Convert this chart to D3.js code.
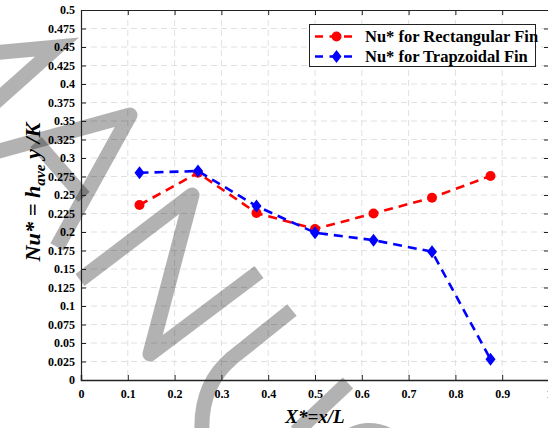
<!DOCTYPE html>
<html>
<head>
<meta charset="utf-8">
<script src="https://cdn.jsdelivr.net/npm/d3@7/dist/d3.min.js"></script>
<style>
  html, body { margin: 0; padding: 0; background: #fff; }
  svg { display: block; }
  text { font-family: "Liberation Serif", "Times New Roman", serif; font-weight: bold; fill: #000; }
</style>
</head>
<body>
<svg id="chart" width="548" height="428"></svg>
<script>
// Dimensionless position along the fin
const positions = [0.125, 0.25, 0.375, 0.5, 0.625, 0.75, 0.875];
// Average Nusselt number, rectangular fin
const nuRectangular = [0.2365, 0.280, 0.2257, 0.204, 0.225, 0.2464, 0.2757];
// Average Nusselt number, trapezoidal fin
const nuTrapezoidal = [0.280, 0.2824, 0.235, 0.199, 0.189, 0.1734, 0.028];

const seriesNames = ["Nu* for Rectangular Fin", "Nu* for Trapzoidal Fin"];
const seriesColors = ["#ff0000", "#0000ff"];

const xTicks = [0, 0.1, 0.2, 0.3, 0.4, 0.5, 0.6, 0.7, 0.8, 0.9, 1];
const xTickLabels = ["0", "0.1", "0.2", "0.3", "0.4", "0.5", "0.6", "0.7", "0.8", "0.9", "1"];
const yTicks = d3.range(0, 21).map(i => +(i * 0.025).toFixed(3));
const yTickLabels = ["0", "0.025", "0.05", "0.075", "0.1", "0.125", "0.15", "0.175", "0.2", "0.225",
  "0.25", "0.275", "0.3", "0.325", "0.35", "0.375", "0.4", "0.425", "0.45", "0.475", "0.5"];

const serif = '"Liberation Serif", "Times New Roman", serif';
const svg = d3.select("#chart");
const plot = { left: 81, right: 549, top: 10, bottom: 380 };

const x = d3.scaleLinear().domain([0, 1]).range([plot.left, plot.right]);
const y = d3.scaleLinear().domain([0, 0.5]).range([plot.bottom, plot.top]);

// Dashed grid
const grid = svg.append("g").attr("stroke", "#e0e0e0").attr("stroke-width", 1).attr("stroke-dasharray", "6,4");
grid.selectAll("line.v").data(xTicks.slice(1, -1)).join("line").attr("class", "v")
  .attr("x1", d => x(d)).attr("x2", d => x(d)).attr("y1", plot.top).attr("y2", plot.bottom);
grid.selectAll("line.h").data(yTicks.slice(1, -1)).join("line").attr("class", "h")
  .attr("x1", plot.left).attr("x2", plot.right).attr("y1", d => y(d)).attr("y2", d => y(d));

// Grey background lettering
const wm = svg.append("g").attr("fill", "none").attr("stroke", "rgba(0,0,0,0.3)")
  .attr("stroke-width", 15).attr("stroke-linejoin", "round").attr("stroke-linecap", "butt");
wm.append("path").attr("d", "M-8,53 L57,47 L-8,105").attr("stroke-linejoin", "miter").attr("stroke-miterlimit", 6);
[
  "M-8,153 L130,115 L57,247",
  "M36,142 L84,197",
  "M80,280 L192,195 L150,354 L259,272",
  "M292,310 L232,358 Q200,385 202,432",
  "M348,383 L296,432",
  "M335,448 Q366,415 402,444"
].forEach(p => wm.append("path").attr("d", p));

// Axes box
const axisColor = "#222";
const ax = svg.append("g");
ax.append("g").attr("transform", `translate(0,${plot.bottom})`)
  .call(d3.axisBottom(x).tickValues(xTicks).tickSize(-5).tickPadding(9).tickFormat((d, i) => xTickLabels[i]))
  .call(g => g.select(".domain").attr("stroke", axisColor).attr("stroke-width", 1.5))
  .call(g => g.selectAll(".tick line").attr("stroke", axisColor))
  .call(g => g.selectAll(".tick text").attr("font-size", 12).attr("font-family", serif).attr("fill", "#000"));
ax.append("g").attr("transform", `translate(0,${plot.top})`)
  .call(d3.axisTop(x).tickValues(xTicks).tickSize(-5).tickFormat(""))
  .call(g => g.select(".domain").attr("stroke", axisColor))
  .call(g => g.selectAll(".tick line").attr("stroke", axisColor));
ax.append("g").attr("transform", `translate(${plot.left},0)`)
  .call(d3.axisLeft(y).tickValues(yTicks).tickSize(-5).tickPadding(6).tickFormat((d, i) => yTickLabels[i]))
  .call(g => g.select(".domain").attr("stroke", axisColor).attr("stroke-width", 1.2))
  .call(g => g.selectAll(".tick line").attr("stroke", axisColor))
  .call(g => g.selectAll(".tick text").attr("font-size", 12).attr("font-family", serif).attr("fill", "#000"));
ax.append("g").attr("transform", `translate(${plot.right},0)`)
  .call(d3.axisRight(y).tickValues(yTicks).tickSize(-5).tickFormat(""))
  .call(g => g.select(".domain").attr("stroke", axisColor))
  .call(g => g.selectAll(".tick line").attr("stroke", axisColor));
svg.selectAll(".domain").attr("fill", "none");

// Series
const series = [nuRectangular, nuTrapezoidal];
const line = d3.line().x((d, i) => x(positions[i])).y(d => y(d));
const diamond = (cx, cy) => `M${cx},${cy - 6.5}L${cx + 5},${cy}L${cx},${cy + 6.5}L${cx - 5},${cy}Z`;

series.forEach((vals, s) => {
  const g = svg.append("g");
  g.append("path").datum(vals).attr("d", line)
    .attr("fill", "none").attr("stroke", seriesColors[s]).attr("stroke-width", 2.6)
    .attr("stroke-dasharray", "9,6");
  if (s === 0) {
    g.selectAll("circle").data(vals).join("circle")
      .attr("cx", (d, i) => x(positions[i])).attr("cy", d => y(d)).attr("r", 5)
      .attr("fill", seriesColors[s]);
  } else {
    g.selectAll("path.m").data(vals).join("path").attr("class", "m")
      .attr("d", (d, i) => diamond(x(positions[i]), y(d)))
      .attr("fill", seriesColors[s]);
  }
});

// Legend
const lg = svg.append("g");
lg.append("rect").attr("x", 309.5).attr("y", 24.5).attr("width", 226).attr("height", 42)
  .attr("fill", "#fff").attr("stroke", "#222").attr("stroke-width", 1);
seriesNames.forEach((name, s) => {
  const cy = 36.5 + s * 20;
  lg.append("line").attr("x1", 315).attr("x2", 358).attr("y1", cy).attr("y2", cy)
    .attr("stroke", seriesColors[s]).attr("stroke-width", 2.6).attr("stroke-dasharray", "8,6.5");
  if (s === 0) lg.append("circle").attr("cx", 336.5).attr("cy", cy).attr("r", 5).attr("fill", seriesColors[s]);
  else lg.append("path").attr("d", diamond(336.5, cy)).attr("fill", seriesColors[s]);
  lg.append("text").attr("x", 365).attr("y", cy + 5.5).attr("font-size", 16.5).text(name);
});

// Axis titles
svg.append("text").attr("x", (plot.left + plot.right) / 2).attr("y", 423).attr("text-anchor", "middle")
  .attr("font-size", 19).attr("font-style", "italic").text("X*=x/L");

const yt = svg.append("text").attr("text-anchor", "middle").attr("font-size", 22).attr("font-style", "italic");
yt.append("tspan").text("Nu* = h");
yt.append("tspan").attr("font-size", 15).attr("dy", 5).text("ave");
yt.append("tspan").attr("dy", -5).text(" y /K");
// condense the label to the span it occupies beside the axis
const ytLen = yt.node().getComputedTextLength();
const ytScale = 139 / ytLen;
yt.attr("transform", `translate(40,192) rotate(-90) scale(${ytScale},1)`);
</script>
</body>
</html>
